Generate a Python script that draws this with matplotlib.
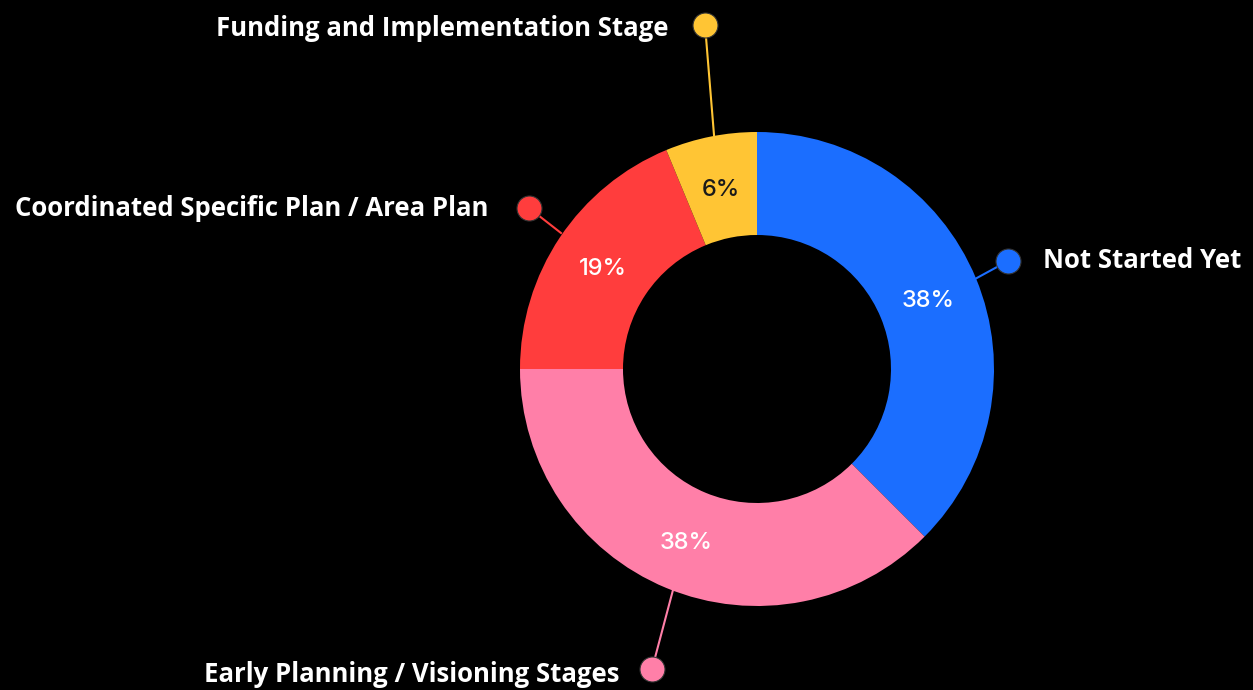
import matplotlib
matplotlib.use("Agg")
import matplotlib.pyplot as plt
import numpy as np

categories = ["Not Started Yet", "Early Planning / Visioning Stages",
              "Coordinated Specific Plan / Area Plan", "Funding and Implementation Stage"]
values = [6, 6, 3, 1]
pct_labels = ["38%", "38%", "19%", "6%"]
colors = ["#1B6EFF", "#FF7FA8", "#FF3D3D", "#FFC534"]
pct_colors = ["white", "white", "white", "#1a1a1a"]

W, H = 1253, 690
fig = plt.figure(figsize=(W / 100, H / 100), dpi=100, facecolor="black")
ax = fig.add_axes([0, 0, 1, 1])
ax.set_facecolor("black")

cx, cy = 757, H - 369
R, r = 237, 134
ax.pie(values, colors=colors, startangle=90, counterclock=False,
       radius=R, center=(cx, cy), frame=True,
       wedgeprops=dict(width=R - r, linewidth=0))
ax.set_xlim(0, W)
ax.set_ylim(0, H)
ax.set_aspect("equal")
ax.axis("off")

total = sum(values)
start = 90.0
mid_r = (R + r) / 2
for v, lab, c in zip(values, pct_labels, pct_colors):
    ang = start - 360 * v / total / 2
    start -= 360 * v / total
    x = cx + mid_r * np.cos(np.radians(ang))
    y = cy + mid_r * np.sin(np.radians(ang)) - 3
    ax.text(x, y, lab, color=c, fontsize=17, fontweight="medium",
            family="Inter", ha="center", va="center")

# leader lines: (dot x, dot y, edge x, edge y) in pixel coords
leaders = [
    (1008, 261, 975, 279),
    (652, 669, 673, 590),
    (529, 208, 561, 233),
    (705, 25, 714, 135),
]
label_pos = [
    (1043, 261, "left"),
    (620, 675, "right"),
    (488, 208, "right"),
    (668, 28, "right"),
]
for (dx, dy, ex, ey), c, (lx, ly, ha), name in zip(leaders, colors, label_pos, categories):
    ax.plot([dx, ex], [H - dy, H - ey], color=c, lw=1.5, zorder=1)
    ax.plot(dx, H - dy, "o", ms=18, color=c, mec="#333333", mew=0.8, zorder=3)
    ax.text(lx, H - ly, name, color="white", fontsize=18.5, fontweight="bold",
            family="Open Sans", ha=ha, va="center")

fig.savefig("out.png", dpi=100, facecolor="black")
